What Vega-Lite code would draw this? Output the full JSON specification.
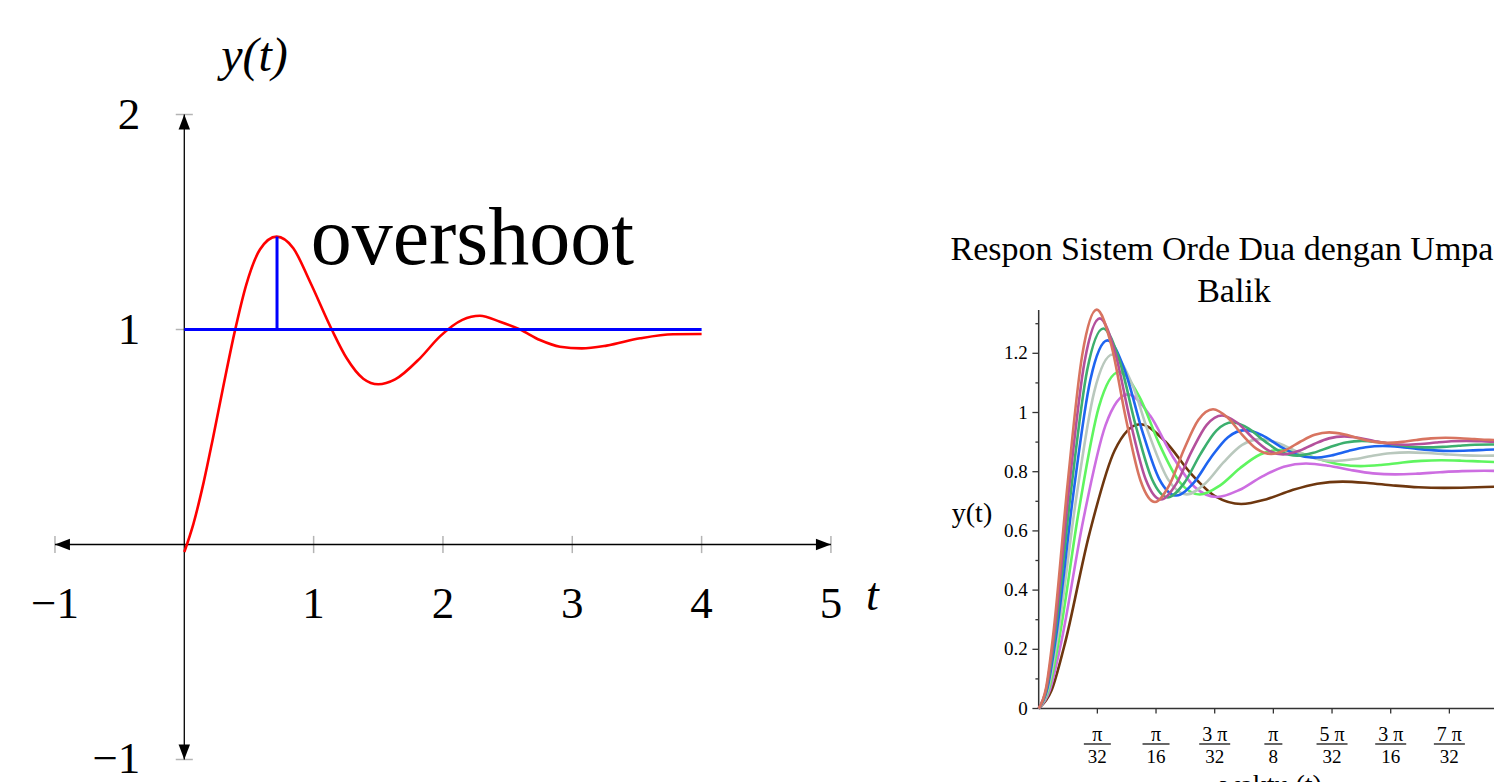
{
"$schema":"https://vega.github.io/schema/vega-lite/v6.json",
"width":1494,"height":782,"autosize":{"type":"none"},"padding":0,
"background":"#ffffff",
"config":{"view":{"stroke":null},"axis":{"disable":true},"legend":{"disable":true},"text":{"font":"Liberation Serif","color":"#000000"}},
"datasets":{
"red":[{"x":0,"y":-0.035},{"x":0.07,"y":0.095},{"x":0.15,"y":0.29},{"x":0.22,"y":0.49},{"x":0.3,"y":0.73},{"x":0.39,"y":0.99},{"x":0.48,"y":1.21},{"x":0.585,"y":1.372},{"x":0.714,"y":1.432},{"x":0.843,"y":1.378},{"x":0.972,"y":1.222},{"x":1.14,"y":1.0},{"x":1.256,"y":0.866},{"x":1.384,"y":0.771},{"x":1.5,"y":0.745},{"x":1.63,"y":0.768},{"x":1.822,"y":0.866},{"x":1.977,"y":0.968},{"x":2.15,"y":1.045},{"x":2.286,"y":1.064},{"x":2.441,"y":1.036},{"x":2.596,"y":1.0},{"x":2.75,"y":0.951},{"x":2.905,"y":0.92},{"x":3.073,"y":0.912},{"x":3.266,"y":0.925},{"x":3.524,"y":0.959},{"x":3.78,"y":0.978},{"x":4.0,"y":0.979}],
"curves":[
{"Kp":3,"t":0,"v":0},{"Kp":3,"t":0.0212,"v":0.0598},{"Kp":3,"t":0.0424,"v":0.2079},{"Kp":3,"t":0.0847,"v":0.5893},{"Kp":3,"t":0.1271,"v":0.8718},{"Kp":3,"t":0.1695,"v":0.9605},{"Kp":3,"t":0.2118,"v":0.9021},{"Kp":3,"t":0.2542,"v":0.7951},{"Kp":3,"t":0.2965,"v":0.7158},{"Kp":3,"t":0.3389,"v":0.691},{"Kp":3,"t":0.3813,"v":0.7073},{"Kp":3,"t":0.4236,"v":0.7374},{"Kp":3,"t":0.466,"v":0.7596},{"Kp":3,"t":0.5084,"v":0.7666},{"Kp":3,"t":0.5507,"v":0.762},{"Kp":3,"t":0.5931,"v":0.7536},{"Kp":3,"t":0.6354,"v":0.7473},{"Kp":3,"t":0.6778,"v":0.7454},{"Kp":3,"t":0.7202,"v":0.7466},{"Kp":3,"t":0.7625,"v":0.749},{"Kp":3,"t":0.8049,"v":0.7508},
{"Kp":4,"t":0,"v":0},{"Kp":4,"t":0.0186,"v":0.0626},{"Kp":4,"t":0.0373,"v":0.22},{"Kp":4,"t":0.0746,"v":0.6372},{"Kp":4,"t":0.1119,"v":0.9574},{"Kp":4,"t":0.1491,"v":1.0614},{"Kp":4,"t":0.1864,"v":0.9895},{"Kp":4,"t":0.2237,"v":0.8532},{"Kp":4,"t":0.261,"v":0.7486},{"Kp":4,"t":0.2983,"v":0.7146},{"Kp":4,"t":0.3356,"v":0.7381},{"Kp":4,"t":0.3729,"v":0.7826},{"Kp":4,"t":0.4101,"v":0.8168},{"Kp":4,"t":0.4474,"v":0.8279},{"Kp":4,"t":0.4847,"v":0.8202},{"Kp":4,"t":0.522,"v":0.8057},{"Kp":4,"t":0.5593,"v":0.7945},{"Kp":4,"t":0.5966,"v":0.7909},{"Kp":4,"t":0.6338,"v":0.7934},{"Kp":4,"t":0.6711,"v":0.7981},{"Kp":4,"t":0.7084,"v":0.8018},{"Kp":4,"t":0.7457,"v":0.803},{"Kp":4,"t":0.783,"v":0.8022},
{"Kp":5,"t":0,"v":0},{"Kp":5,"t":0.0168,"v":0.0644},{"Kp":5,"t":0.0337,"v":0.2284},{"Kp":5,"t":0.0674,"v":0.6716},{"Kp":5,"t":0.101,"v":1.0207},{"Kp":5,"t":0.1347,"v":1.1367},{"Kp":5,"t":0.1684,"v":1.0536},{"Kp":5,"t":0.2021,"v":0.8922},{"Kp":5,"t":0.2358,"v":0.7651},{"Kp":5,"t":0.2695,"v":0.7229},{"Kp":5,"t":0.3031,"v":0.7532},{"Kp":5,"t":0.3368,"v":0.8119},{"Kp":5,"t":0.3705,"v":0.8582},{"Kp":5,"t":0.4042,"v":0.8735},{"Kp":5,"t":0.4379,"v":0.8625},{"Kp":5,"t":0.4716,"v":0.8411},{"Kp":5,"t":0.5052,"v":0.8243},{"Kp":5,"t":0.5389,"v":0.8187},{"Kp":5,"t":0.5726,"v":0.8227},{"Kp":5,"t":0.6063,"v":0.8305},{"Kp":5,"t":0.64,"v":0.8366},{"Kp":5,"t":0.6737,"v":0.8387},{"Kp":5,"t":0.7073,"v":0.8372},{"Kp":5,"t":0.741,"v":0.8344},{"Kp":5,"t":0.7747,"v":0.8321},
{"Kp":6,"t":0,"v":0},{"Kp":6,"t":0.0155,"v":0.0657},{"Kp":6,"t":0.031,"v":0.2346},{"Kp":6,"t":0.0619,"v":0.6979},{"Kp":6,"t":0.0929,"v":1.0699},{"Kp":6,"t":0.1238,"v":1.1958},{"Kp":6,"t":0.1548,"v":1.1031},{"Kp":6,"t":0.1857,"v":0.9201},{"Kp":6,"t":0.2167,"v":0.7731},{"Kp":6,"t":0.2476,"v":0.7234},{"Kp":6,"t":0.2786,"v":0.76},{"Kp":6,"t":0.3096,"v":0.8323},{"Kp":6,"t":0.3405,"v":0.8904},{"Kp":6,"t":0.3715,"v":0.91},{"Kp":6,"t":0.4024,"v":0.8955},{"Kp":6,"t":0.4334,"v":0.867},{"Kp":6,"t":0.4643,"v":0.844},{"Kp":6,"t":0.4953,"v":0.8363},{"Kp":6,"t":0.5262,"v":0.842},{"Kp":6,"t":0.5572,"v":0.8533},{"Kp":6,"t":0.5881,"v":0.8623},{"Kp":6,"t":0.6191,"v":0.8654},{"Kp":6,"t":0.6501,"v":0.8631},{"Kp":6,"t":0.681,"v":0.8587},{"Kp":6,"t":0.712,"v":0.8551},{"Kp":6,"t":0.7429,"v":0.8539},{"Kp":6,"t":0.7739,"v":0.8548},
{"Kp":7,"t":0,"v":0},{"Kp":7,"t":0.0144,"v":0.0667},{"Kp":7,"t":0.0288,"v":0.2394},{"Kp":7,"t":0.0576,"v":0.7188},{"Kp":7,"t":0.0864,"v":1.1097},{"Kp":7,"t":0.1152,"v":1.2438},{"Kp":7,"t":0.144,"v":1.1429},{"Kp":7,"t":0.1728,"v":0.9408},{"Kp":7,"t":0.2016,"v":0.7761},{"Kp":7,"t":0.2304,"v":0.7196},{"Kp":7,"t":0.2592,"v":0.7621},{"Kp":7,"t":0.288,"v":0.8473},{"Kp":7,"t":0.3168,"v":0.9167},{"Kp":7,"t":0.3456,"v":0.9405},{"Kp":7,"t":0.3744,"v":0.9226},{"Kp":7,"t":0.4032,"v":0.8867},{"Kp":7,"t":0.432,"v":0.8574},{"Kp":7,"t":0.4608,"v":0.8474},{"Kp":7,"t":0.4896,"v":0.8549},{"Kp":7,"t":0.5184,"v":0.8701},{"Kp":7,"t":0.5472,"v":0.8824},{"Kp":7,"t":0.576,"v":0.8866},{"Kp":7,"t":0.6048,"v":0.8835},{"Kp":7,"t":0.6336,"v":0.8771},{"Kp":7,"t":0.6624,"v":0.8719},{"Kp":7,"t":0.6912,"v":0.8701},{"Kp":7,"t":0.72,"v":0.8714},{"Kp":7,"t":0.7488,"v":0.8741},{"Kp":7,"t":0.7776,"v":0.8763},
{"Kp":8,"t":0,"v":0},{"Kp":8,"t":0.0135,"v":0.0675},{"Kp":8,"t":0.027,"v":0.2432},{"Kp":8,"t":0.0541,"v":0.7359},{"Kp":8,"t":0.0811,"v":1.1426},{"Kp":8,"t":0.1082,"v":1.2839},{"Kp":8,"t":0.1352,"v":1.1758},{"Kp":8,"t":0.1622,"v":0.9569},{"Kp":8,"t":0.1893,"v":0.7761},{"Kp":8,"t":0.2163,"v":0.7134},{"Kp":8,"t":0.2434,"v":0.7614},{"Kp":8,"t":0.2704,"v":0.8587},{"Kp":8,"t":0.2974,"v":0.939},{"Kp":8,"t":0.3245,"v":0.9669},{"Kp":8,"t":0.3515,"v":0.9455},{"Kp":8,"t":0.3786,"v":0.9023},{"Kp":8,"t":0.4056,"v":0.8666},{"Kp":8,"t":0.4326,"v":0.8542},{"Kp":8,"t":0.4597,"v":0.8637},{"Kp":8,"t":0.4867,"v":0.8829},{"Kp":8,"t":0.5138,"v":0.8988},{"Kp":8,"t":0.5408,"v":0.9043},{"Kp":8,"t":0.5678,"v":0.9001},{"Kp":8,"t":0.5949,"v":0.8915},{"Kp":8,"t":0.6219,"v":0.8845},{"Kp":8,"t":0.649,"v":0.8821},{"Kp":8,"t":0.676,"v":0.8839},{"Kp":8,"t":0.703,"v":0.8877},{"Kp":8,"t":0.7301,"v":0.8909},{"Kp":8,"t":0.7571,"v":0.8919},{"Kp":8,"t":0.7842,"v":0.8911},
{"Kp":9,"t":0,"v":0},{"Kp":9,"t":0.0128,"v":0.0681},{"Kp":9,"t":0.0256,"v":0.2464},{"Kp":9,"t":0.0511,"v":0.7503},{"Kp":9,"t":0.0767,"v":1.1706},{"Kp":9,"t":0.1023,"v":1.318},{"Kp":9,"t":0.1278,"v":1.2035},{"Kp":9,"t":0.1534,"v":0.9695},{"Kp":9,"t":0.179,"v":0.7743},{"Kp":9,"t":0.2045,"v":0.7059},{"Kp":9,"t":0.2301,"v":0.759},{"Kp":9,"t":0.2557,"v":0.8677},{"Kp":9,"t":0.2812,"v":0.9584},{"Kp":9,"t":0.3068,"v":0.9901},{"Kp":9,"t":0.3323,"v":0.9655},{"Kp":9,"t":0.3579,"v":0.915},{"Kp":9,"t":0.3835,"v":0.8729},{"Kp":9,"t":0.409,"v":0.8581},{"Kp":9,"t":0.4346,"v":0.8696},{"Kp":9,"t":0.4602,"v":0.893},{"Kp":9,"t":0.4857,"v":0.9126},{"Kp":9,"t":0.5113,"v":0.9194},{"Kp":9,"t":0.5369,"v":0.9141},{"Kp":9,"t":0.5624,"v":0.9032},{"Kp":9,"t":0.588,"v":0.8942},{"Kp":9,"t":0.6136,"v":0.891},{"Kp":9,"t":0.6391,"v":0.8935},{"Kp":9,"t":0.6647,"v":0.8985},{"Kp":9,"t":0.6903,"v":0.9027},{"Kp":9,"t":0.7158,"v":0.9042},{"Kp":9,"t":0.7414,"v":0.9031},{"Kp":9,"t":0.767,"v":0.9007},{"Kp":9,"t":0.7925,"v":0.8987},
{"Kp":10,"t":0,"v":0},{"Kp":10,"t":0.0122,"v":0.0687},{"Kp":10,"t":0.0243,"v":0.249},{"Kp":10,"t":0.0486,"v":0.7625},{"Kp":10,"t":0.0729,"v":1.1947},{"Kp":10,"t":0.0972,"v":1.3475},{"Kp":10,"t":0.1216,"v":1.2274},{"Kp":10,"t":0.1459,"v":0.9798},{"Kp":10,"t":0.1702,"v":0.7713},{"Kp":10,"t":0.1945,"v":0.6977},{"Kp":10,"t":0.2188,"v":0.7556},{"Kp":10,"t":0.2431,"v":0.875},{"Kp":10,"t":0.2674,"v":0.9755},{"Kp":10,"t":0.2917,"v":1.0111},{"Kp":10,"t":0.316,"v":0.9831},{"Kp":10,"t":0.3403,"v":0.9255},{"Kp":10,"t":0.3647,"v":0.8771},{"Kp":10,"t":0.389,"v":0.8599},{"Kp":10,"t":0.4133,"v":0.8734},{"Kp":10,"t":0.4376,"v":0.9012},{"Kp":10,"t":0.4619,"v":0.9245},{"Kp":10,"t":0.4862,"v":0.9328},{"Kp":10,"t":0.5105,"v":0.9263},{"Kp":10,"t":0.5348,"v":0.9129},{"Kp":10,"t":0.5591,"v":0.9016},{"Kp":10,"t":0.5834,"v":0.8977},{"Kp":10,"t":0.6078,"v":0.9008},{"Kp":10,"t":0.6321,"v":0.9073},{"Kp":10,"t":0.6564,"v":0.9127},{"Kp":10,"t":0.6807,"v":0.9146},{"Kp":10,"t":0.705,"v":0.9131},{"Kp":10,"t":0.7293,"v":0.91},{"Kp":10,"t":0.7536,"v":0.9074},{"Kp":10,"t":0.7779,"v":0.9064}
],
"yticks":[{"v":0,"label":"0"},{"v":0.2,"label":"0.2"},{"v":0.4,"label":"0.4"},{"v":0.6,"label":"0.6"},{"v":0.8,"label":"0.8"},{"v":1,"label":"1"},{"v":1.2,"label":"1.2"}],
"xticks":[{"t":0.098175,"num":"π","den":"32"},{"t":0.19635,"num":"π","den":"16"},{"t":0.294524,"num":"3 π","den":"32"},{"t":0.392699,"num":"π","den":"8"},{"t":0.490874,"num":"5 π","den":"32"},{"t":0.589049,"num":"3 π","den":"16"},{"t":0.687223,"num":"7 π","den":"32"}]
},
"layer":[
{"layer":[
 {"data":{"values":[{"x":-1},{"x":1},{"x":2},{"x":3},{"x":4},{"x":5}]},
  "mark":{"type":"rule","color":"#b4b4b4","strokeWidth":1.5},
  "encoding":{"x":{"field":"x","type":"quantitative","scale":{"domain":[-1.425,10.127],"nice":false,"zero":false}},
   "y":{"datum":-0.04,"type":"quantitative","scale":{"domain":[-1.1047,2.5326],"nice":false,"zero":false}},"y2":{"datum":0.04}}},
 {"data":{"values":[{"y":2},{"y":1},{"y":-1}]},
  "mark":{"type":"rule","color":"#b4b4b4","strokeWidth":1.5},
  "encoding":{"y":{"field":"y","type":"quantitative","scale":{"domain":[-1.1047,2.5326],"nice":false,"zero":false}},
   "x":{"datum":-0.066,"type":"quantitative","scale":{"domain":[-1.425,10.127],"nice":false,"zero":false}},"x2":{"datum":0.066}}},
 {"data":{"values":[{"x":-1,"y":0,"x2":5,"y2":0},{"x":0,"y":-1,"x2":0,"y2":2}]},
  "mark":{"type":"rule","color":"#000000","strokeWidth":1.3},
  "encoding":{"x":{"field":"x","type":"quantitative","scale":{"domain":[-1.425,10.127],"nice":false,"zero":false}},
   "y":{"field":"y","type":"quantitative","scale":{"domain":[-1.1047,2.5326],"nice":false,"zero":false}},
   "x2":{"field":"x2"},"y2":{"field":"y2"}}},
 {"data":{"values":[{"x":-1,"y":0,"dir":"left"},{"x":5,"y":0,"dir":"right"},{"x":0,"y":2,"dir":"up"},{"x":0,"y":-1,"dir":"down"}]},
  "mark":{"type":"point","filled":true,"opacity":1,"color":"#000000","size":900},
  "encoding":{"x":{"field":"x","type":"quantitative","scale":{"domain":[-1.425,10.127],"nice":false,"zero":false}},
   "y":{"field":"y","type":"quantitative","scale":{"domain":[-1.1047,2.5326],"nice":false,"zero":false}},
   "shape":{"field":"dir","type":"nominal","legend":null,"scale":{"domain":["left","right","up","down"],"range":["M0,0L1,-0.38L1,0.38Z","M0,0L-1,-0.38L-1,0.38Z","M0,0L-0.38,1L0.38,1Z","M0,0L-0.38,-1L0.38,-1Z"]}}}},
 {"data":{"name":"red"},
  "mark":{"type":"line","color":"#ff0000","strokeWidth":2.6,"interpolate":"monotone"},
  "encoding":{"x":{"field":"x","type":"quantitative","scale":{"domain":[-1.425,10.127],"nice":false,"zero":false}},
   "y":{"field":"y","type":"quantitative","scale":{"domain":[-1.1047,2.5326],"nice":false,"zero":false}}}},
 {"data":{"values":[{"x":0,"y":1,"x2":4,"y2":1},{"x":0.717,"y":1,"x2":0.717,"y2":1.432}]},
  "mark":{"type":"rule","color":"#0000ff","strokeWidth":3},
  "encoding":{"x":{"field":"x","type":"quantitative","scale":{"domain":[-1.425,10.127],"nice":false,"zero":false}},
   "y":{"field":"y","type":"quantitative","scale":{"domain":[-1.1047,2.5326],"nice":false,"zero":false}},
   "x2":{"field":"x2"},"y2":{"field":"y2"}}},
 {"data":{"values":[{}]},
  "mark":{"type":"text","text":"overshoot","fontSize":82,"align":"left","baseline":"alphabetic"},
  "encoding":{"x":{"datum":0.977,"type":"quantitative","scale":{"domain":[-1.425,10.127],"nice":false,"zero":false}},
   "y":{"datum":1.3047,"type":"quantitative","scale":{"domain":[-1.1047,2.5326],"nice":false,"zero":false}}}},
 {"data":{"values":[{"x":-1,"label":"−1"},{"x":1,"label":"1"},{"x":2,"label":"2"},{"x":3,"label":"3"},{"x":4,"label":"4"},{"x":5,"label":"5"}]},
  "mark":{"type":"text","fontSize":45,"align":"center","baseline":"alphabetic"},
  "encoding":{"x":{"field":"x","type":"quantitative","scale":{"domain":[-1.425,10.127],"nice":false,"zero":false}},
   "y":{"datum":-0.342,"type":"quantitative","scale":{"domain":[-1.1047,2.5326],"nice":false,"zero":false}},
   "text":{"field":"label"}}},
 {"data":{"values":[{"y":2,"label":"2"},{"y":1,"label":"1"},{"y":-1,"label":"−1"}]},
  "mark":{"type":"text","fontSize":45,"align":"right","baseline":"middle"},
  "encoding":{"y":{"field":"y","type":"quantitative","scale":{"domain":[-1.1047,2.5326],"nice":false,"zero":false}},
   "x":{"datum":-0.34,"type":"quantitative","scale":{"domain":[-1.425,10.127],"nice":false,"zero":false}},
   "text":{"field":"label"}}},
 {"data":{"values":[{}]},
  "mark":{"type":"text","text":"t","fontSize":46,"fontStyle":"italic","align":"center","baseline":"alphabetic"},
  "encoding":{"x":{"datum":5.32,"type":"quantitative","scale":{"domain":[-1.425,10.127],"nice":false,"zero":false}},
   "y":{"datum":-0.305,"type":"quantitative","scale":{"domain":[-1.1047,2.5326],"nice":false,"zero":false}}}},
 {"data":{"values":[{}]},
  "mark":{"type":"text","text":"y(t)","fontSize":48,"fontStyle":"italic","align":"center","baseline":"alphabetic"},
  "encoding":{"x":{"datum":0.543,"type":"quantitative","scale":{"domain":[-1.425,10.127],"nice":false,"zero":false}},
   "y":{"datum":2.2023,"type":"quantitative","scale":{"domain":[-1.1047,2.5326],"nice":false,"zero":false}}}}
]},
{"layer":[
 {"data":{"values":[{}]},
  "mark":{"type":"rule","color":"#333333","strokeWidth":1.5},
  "encoding":{"x":{"datum":0,"type":"quantitative","scale":{"domain":[-1.7381,0.7619],"nice":false,"zero":false}},
   "y":{"datum":0,"type":"quantitative","scale":{"domain":[-0.2483,2.3936],"nice":false,"zero":false}},"y2":{"datum":1.346}}},
 {"data":{"values":[{}]},
  "mark":{"type":"rule","color":"#333333","strokeWidth":1.5},
  "encoding":{"x":{"datum":0,"type":"quantitative","scale":{"domain":[-1.7381,0.7619],"nice":false,"zero":false}},"x2":{"datum":0.7619},
   "y":{"datum":0,"type":"quantitative","scale":{"domain":[-0.2483,2.3936],"nice":false,"zero":false}}}},
 {"data":{"name":"yticks"},
  "mark":{"type":"rule","color":"#333333","strokeWidth":1.3},
  "encoding":{"y":{"field":"v","type":"quantitative","scale":{"domain":[-0.2483,2.3936],"nice":false,"zero":false}},
   "x":{"datum":-0.0105,"type":"quantitative","scale":{"domain":[-1.7381,0.7619],"nice":false,"zero":false}},"x2":{"datum":0}}},
 {"data":{"values":[{"v":0.1},{"v":0.3},{"v":0.5},{"v":0.7},{"v":0.9},{"v":1.1},{"v":1.3}]},
  "mark":{"type":"rule","color":"#333333","strokeWidth":1.3},
  "encoding":{"y":{"field":"v","type":"quantitative","scale":{"domain":[-0.2483,2.3936],"nice":false,"zero":false}},
   "x":{"datum":-0.0055,"type":"quantitative","scale":{"domain":[-1.7381,0.7619],"nice":false,"zero":false}},"x2":{"datum":0}}},
 {"data":{"name":"yticks"},
  "mark":{"type":"text","fontSize":19,"align":"right","baseline":"middle"},
  "encoding":{"y":{"field":"v","type":"quantitative","scale":{"domain":[-0.2483,2.3936],"nice":false,"zero":false}},
   "x":{"datum":-0.0185,"type":"quantitative","scale":{"domain":[-1.7381,0.7619],"nice":false,"zero":false}},
   "text":{"field":"label"}}},
 {"data":{"name":"xticks"},
  "mark":{"type":"rule","color":"#333333","strokeWidth":1.3},
  "encoding":{"x":{"field":"t","type":"quantitative","scale":{"domain":[-1.7381,0.7619],"nice":false,"zero":false}},
   "y":{"datum":0,"type":"quantitative","scale":{"domain":[-0.2483,2.3936],"nice":false,"zero":false}},"y2":{"datum":-0.017}}},
 {"data":{"name":"xticks"},
  "mark":{"type":"text","fontSize":20,"align":"center","baseline":"alphabetic"},
  "encoding":{"x":{"field":"t","type":"quantitative","scale":{"domain":[-1.7381,0.7619],"nice":false,"zero":false}},
   "y":{"datum":-0.1098,"type":"quantitative","scale":{"domain":[-0.2483,2.3936],"nice":false,"zero":false}},
   "text":{"field":"num"}}},
 {"data":{"name":"xticks"},
  "mark":{"type":"text","fontSize":19,"align":"center","baseline":"alphabetic"},
  "encoding":{"x":{"field":"t","type":"quantitative","scale":{"domain":[-1.7381,0.7619],"nice":false,"zero":false}},
   "y":{"datum":-0.1841,"type":"quantitative","scale":{"domain":[-0.2483,2.3936],"nice":false,"zero":false}},
   "text":{"field":"den"}}},
 {"data":{"name":"xticks"},
  "mark":{"type":"tick","orient":"horizontal","color":"#000000","thickness":1.2,"opacity":1},
  "encoding":{"x":{"field":"t","type":"quantitative","scale":{"domain":[-1.7381,0.7619],"nice":false,"zero":false}},
   "y":{"datum":-0.1199,"type":"quantitative","scale":{"domain":[-0.2483,2.3936],"nice":false,"zero":false}},
   "size":{"condition":[{"test":"datum.den == '8'","value":18},{"test":"datum.num != 'π'","value":31}],"value":27}}},
 {"data":{"name":"curves"},
  "mark":{"type":"line","strokeWidth":2.6,"interpolate":"monotone","clip":true},
  "encoding":{"x":{"field":"t","type":"quantitative","scale":{"domain":[-1.7381,0.7619],"nice":false,"zero":false}},
   "y":{"field":"v","type":"quantitative","scale":{"domain":[-0.2483,2.3936],"nice":false,"zero":false}},
   "color":{"field":"Kp","type":"nominal","legend":null,"scale":{"domain":[3,4,5,6,7,8,9,10],"range":["#6e370f","#cd6ee1","#5ff55f","#b9c8bd","#1e64f0","#3caf6e","#b4509b","#d87460"]}}}},
 {"data":{"values":[{}]},
  "mark":{"type":"text","text":"Respon Sistem Orde Dua dengan Umpan","fontSize":34,"align":"left","baseline":"alphabetic"},
  "encoding":{"x":{"datum":-0.1476,"type":"quantitative","scale":{"domain":[-1.7381,0.7619],"nice":false,"zero":false}},
   "y":{"datum":1.5152,"type":"quantitative","scale":{"domain":[-0.2483,2.3936],"nice":false,"zero":false}}}},
 {"data":{"values":[{}]},
  "mark":{"type":"text","text":"Balik","fontSize":34,"align":"center","baseline":"alphabetic"},
  "encoding":{"x":{"datum":0.3268,"type":"quantitative","scale":{"domain":[-1.7381,0.7619],"nice":false,"zero":false}},
   "y":{"datum":1.3733,"type":"quantitative","scale":{"domain":[-0.2483,2.3936],"nice":false,"zero":false}}}},
 {"data":{"values":[{}]},
  "mark":{"type":"text","text":"y(t)","fontSize":28,"align":"center","baseline":"middle"},
  "encoding":{"x":{"datum":-0.1116,"type":"quantitative","scale":{"domain":[-1.7381,0.7619],"nice":false,"zero":false}},
   "y":{"datum":0.657,"type":"quantitative","scale":{"domain":[-0.2483,2.3936],"nice":false,"zero":false}}}},
 {"data":{"values":[{}]},
  "mark":{"type":"text","text":"waktu (t)","fontSize":28,"align":"center","baseline":"alphabetic"},
  "encoding":{"x":{"datum":0.3887,"type":"quantitative","scale":{"domain":[-1.7381,0.7619],"nice":false,"zero":false}},
   "y":{"datum":-0.289,"type":"quantitative","scale":{"domain":[-0.2483,2.3936],"nice":false,"zero":false}}}}
]}
],
"resolve":{"scale":{"x":"independent","y":"independent"}}
}
